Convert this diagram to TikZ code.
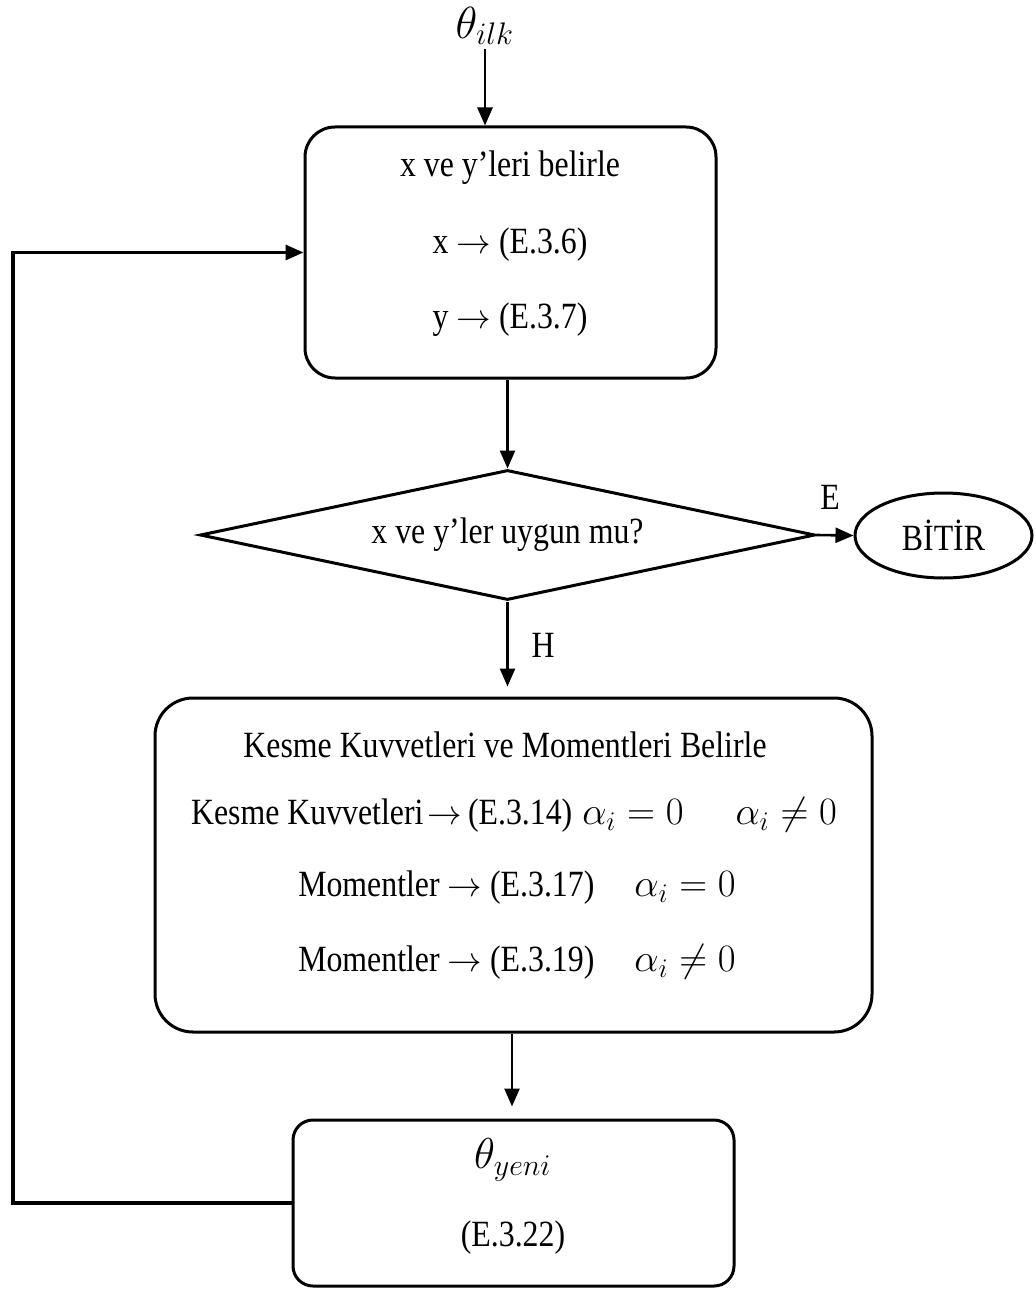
\documentclass[tikz,border=0pt]{standalone}
\usepackage{fontspec}
\usepackage{graphicx}
\setmainfont[FakeStretch=0.86]{Liberation Serif}
\usetikzlibrary{shapes.geometric,arrows.meta}
\newcommand\mymath[2][1.12]{\scalebox{#1}{$#2$}}
\begin{document}
\begin{tikzpicture}[x=0.5pt,y=-0.5pt,
  every node/.style={font=\fontsize{18.5}{22}\selectfont, inner sep=2pt},
  rbox/.style={draw, line width=1.5pt, inner sep=0pt},
  dia/.style={draw, diamond, line width=1.5pt, inner sep=0pt, shape aspect=4.73,
              minimum width=307.5pt, minimum height=65pt},
  oval/.style={draw, ellipse, line width=1.5pt, inner sep=0pt,
              minimum width=88.5pt, minimum height=42.5pt},
  arr/.style={line width=1.3pt, -{Triangle[length=9pt,width=7.5pt]}},
  loopline/.style={line width=1.6pt, -{Triangle[length=9pt,width=7.5pt]}},
  lbl/.style={inner sep=0pt}
]
\useasboundingbox (0,0) rectangle (1036,1289);

% start label
\node[lbl] (ilk) at (485,26) {\mymath[1.3]{\theta_{ilk}}};

% box 1
\node[rbox, rounded corners=15pt, minimum width=205.5pt, minimum height=125.5pt] (b1) at (510.5,252.5) {};
\node[lbl] (b1t1) at (510,168) {x ve y’leri belirle};
\node[lbl] (b1t2) at (510,245) {x $\rightarrow$ (E.3.6)};
\node[lbl] (b1t3) at (510,320) {y $\rightarrow$ (E.3.7)};

% decision
\node[dia] (d) at (507.5,535) {x ve y’ler uygun mu?};

% end
\node[oval] (end) at (943.5,535.5) {BİTİR};
\node[lbl] (E) at (830,497) {E};
\node[lbl] (H) at (543,645) {H};

% box 2
\node[rbox, rounded corners=19pt, minimum width=358.5pt, minimum height=167pt] (b2) at (513.5,865) {};
\node[lbl] (b2t1) at (505,745) {Kesme Kuvvetleri ve Momentleri Belirle};
\node[lbl] (b2t2) at (514,815) {Kesme Kuvvetleri\kern2pt$\rightarrow$\kern3pt(E.3.14)\hspace{5pt}\mymath{\alpha_i = 0}\hspace{26pt}\mymath{\alpha_i \neq 0}};
\node[lbl] (b2t3) at (517,888) {Momentler $\rightarrow$ (E.3.17)\hspace{20pt}\mymath{\alpha_i = 0}};
\node[lbl] (b2t4) at (517,962) {Momentler $\rightarrow$ (E.3.19)\hspace{20pt}\mymath{\alpha_i \neq 0}};

% box 3
\node[rbox, rounded corners=10pt, minimum width=220.5pt, minimum height=83pt] (b3) at (513.5,1203) {};
\node[lbl] (b3t1) at (513,1160) {\mymath[1.25]{\theta_{yeni}}};
\node[lbl] (b3t2) at (513,1238) {(E.3.22)};

% connectors
\coordinate (lc) at (13,0);
\draw[arr] (ilk.south |- 0,49) -- (ilk.south |- b1.north);
\draw[arr] (d.north |- b1.south) -- (d.north);
\draw[arr] (d.east) -- (end.west);
\draw[arr, shorten >=5pt] (d.south) -- (d.south |- b2.north);
\draw[arr, shorten >=6pt] (512,0 |- b2.south) -- (512,0 |- b3.north);
\draw[loopline] (b3.west) -- (lc |- b3.west) -- (lc |- b1.west) -- (b1.west);
\end{tikzpicture}
\end{document}
